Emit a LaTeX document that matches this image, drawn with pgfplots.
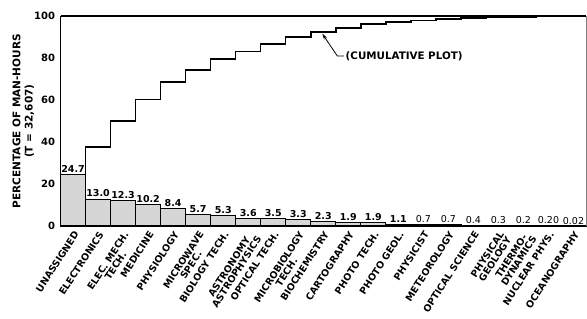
\documentclass[border=0pt]{standalone}
\usepackage{pgfplots}
\pgfplotsset{compat=1.18}
\usepackage{pgfplotstable}
\usepackage{fontspec}
\setmainfont{DejaVu Sans}
\usetikzlibrary{arrows.meta}
\newcommand\lab[1]{{\mdseries #1}}
\pgfplotstableread{
x val lab
0 24.7 24.7
1 13.0 13.0
2 12.3 12.3
3 10.2 10.2
4 8.4 8.4
5 5.7 5.7
6 5.3 5.3
7 3.6 3.6
8 3.5 3.5
9 3.3 3.3
10 2.3 2.3
11 1.9 1.9
12 1.9 1.9
13 1.1 1.1
14 0.7 \lab{0.7}
15 0.7 \lab{0.7}
16 0.4 \lab{0.4}
17 0.3 \lab{0.3}
18 0.2 \lab{0.2}
19 0.2 \lab{0.20}
20 0.02 \lab{0.02}
}\bars
\pgfplotstableread{
x cum
-0.5 24.7
0.5 37.7
1.5 50.0
2.5 60.2
3.5 68.6
4.5 74.3
5.5 79.6
6.5 83.2
7.5 86.7
8.5 90.0
9.5 92.3
10.5 94.2
11.5 96.1
12.5 97.2
13.5 97.9
14.5 98.6
15.5 99.0
16.5 99.3
17.5 99.5
18.5 99.7
19.5 99.72
20.5 99.72
}\cumul
\begin{document}
\begin{tikzpicture}
\begin{axis}[
  width=525pt, height=210pt, scale only axis,
  xmin=-0.5, xmax=20.5, ymin=0, ymax=100,
  clip=false,
  axis line style={draw=none},
  major tick length=0pt,
  ytick={0,20,40,60,80,100},
  xtick={0,...,20},
  xticklabels={UNASSIGNED, ELECTRONICS, {ELEC. MECH.\\TECH.}, MEDICINE, PHYSIOLOGY, {MICROWAVE\\SPEC.}, {BIOLOGY TECH.}, {ASTRONOMY\\ASTROPHYSICS}, {OPTICAL TECH.}, {MICROBIOLOGY\\TECH.}, BIOCHEMISTRY, CARTOGRAPHY, {PHOTO TECH.}, {PHOTO GEOL.}, PHYSICIST, METEOROLOGY, {OPTICAL SCIENCE}, {PHYSICAL\\GEOLOGY}, {THERMO-\\DYNAMICS}, {NUCLEAR PHYS.}, OCEANOGRAPHY},
  xticklabel style={rotate=57, anchor=north east, align=center, inner sep=0.5pt, xshift=-2.8pt, yshift=-1.8pt,
    font=\bfseries\fontsize{9.5}{9}\selectfont},
  yticklabel style={font=\bfseries\fontsize{10}{10}\selectfont, xshift=-2pt},
  /pgf/number format/assume math mode=true,
  every axis y label/.style={at={(rel axis cs:0,0.5)}, xshift=-23pt, rotate=90, anchor=south, align=center,
    font=\bfseries\fontsize{10.5}{12}\selectfont},
  ylabel={PERCENTAGE OF MAN-HOURS\\(T = 32,607)},
]
\addplot[ybar, bar width=1, bar shift=0pt, fill=black!16, draw=black, line width=0.7pt,
  nodes near coords, point meta=explicit symbolic,
  nodes near coords style={font=\bfseries\fontsize{9.5}{9.5}\selectfont, anchor=south, inner sep=1.5pt}]
  table[x=x, y=val, meta=lab]{\bars};
\addplot[const plot mark left, black, line width=1.5pt, mark=none] table[x=x, y=cum]{\cumul};
\draw[line width=1.8pt] (rel axis cs:0,1) -- (rel axis cs:0,0) -- (rel axis cs:1,0);
\draw[line width=1.4pt] (rel axis cs:0,1) -- (rel axis cs:1,1);
\draw[line width=0.4pt, black!50] (rel axis cs:1,0) -- (rel axis cs:1,1);
\draw[line width=0.8pt, -{Stealth[length=6pt,width=3.5pt]}] (axis cs:10.82,81) -- (axis cs:10.56,81) -- (axis cs:9.96,91.6);
\node[anchor=west, inner sep=1pt, font=\bfseries\fontsize{10.3}{10}\selectfont] at (axis cs:10.85,81) {(CUMULATIVE PLOT)};
\end{axis}
\pgfresetboundingbox
\path[use as bounding box] ([xshift=-60.5pt,yshift=-92pt]current axis.south west) rectangle ([xshift=1pt,yshift=16pt]current axis.north east);
\end{tikzpicture}
\end{document}
